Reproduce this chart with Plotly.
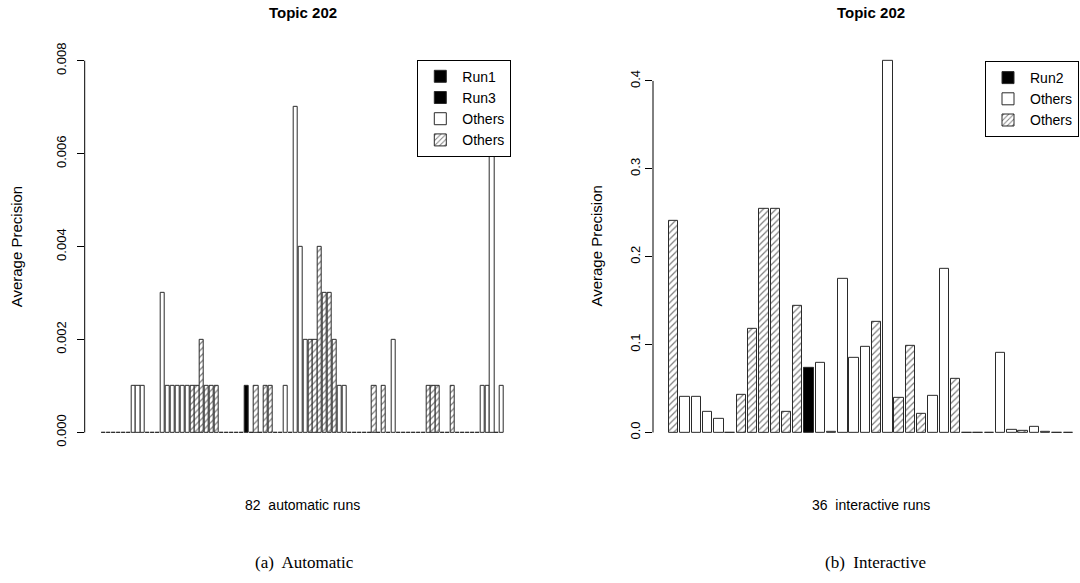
import plotly.graph_objects as go

W, H = 1080, 583

# ---- data -----------------------------------------------------------------
# Topic 202, automatic runs: average precision per run and the kind of run
auto_ap = [
    0, 0, 0, 0, 0, 0, 0.001, 0.001, 0.001, 0,
    0, 0, 0.003, 0.001, 0.001, 0.001, 0.001, 0.001, 0.001, 0.001,
    0.002, 0.001, 0.001, 0.001, 0, 0, 0, 0, 0, 0.001,
    0, 0.001, 0, 0.001, 0.001, 0, 0, 0.001, 0, 0.007,
    0.004, 0.002, 0.002, 0.002, 0.004, 0.003, 0.003, 0.002, 0.001, 0.001,
    0, 0, 0, 0, 0, 0.001, 0, 0.001, 0, 0.002,
    0, 0, 0, 0, 0, 0, 0.001, 0.001, 0.001, 0,
    0, 0.001, 0, 0, 0, 0, 0, 0.001, 0.001, 0.006,
    0, 0.001,
]
# "o" = other run (plain), "h" = other run (hatched), otherwise the run name
auto_kind = [
    "o", "o", "o", "o", "o", "o", "o", "o", "o", "o",
    "o", "o", "o", "o", "o", "o", "o", "o", "h", "h",
    "h", "h", "h", "h", "o", "o", "o", "o", "o", "Run1",
    "o", "h", "o", "h", "h", "o", "o", "o", "o", "o",
    "o", "o", "h", "h", "h", "h", "h", "h", "o", "o",
    "o", "o", "o", "o", "o", "h", "o", "h", "o", "o",
    "o", "o", "o", "o", "o", "o", "h", "h", "h", "o",
    "o", "h", "o", "o", "o", "o", "o", "o", "o", "o",
    "o", "o",
]
auto_runs = ["Run1", "Run3"]
auto_ticks = [0.000, 0.002, 0.004, 0.006, 0.008]

# Topic 202, interactive runs
inter_ap = [
    0.241, 0.041, 0.041, 0.023, 0.015, 0, 0.043, 0.118, 0.255, 0.255,
    0.024, 0.144, 0.073, 0.079, 0.001, 0.175, 0.085, 0.097, 0.126, 0.423,
    0.040, 0.099, 0.021, 0.042, 0.186, 0.061, 0, 0, 0, 0.091,
    0.003, 0.002, 0.007, 0.001, 0, 0,
]
inter_kind = [
    "h", "o", "o", "o", "o", "o", "h", "h", "h", "h",
    "h", "h", "Run2", "o", "o", "o", "o", "o", "h", "o",
    "h", "h", "h", "o", "o", "h", "o", "o", "o", "o",
    "o", "h", "o", "o", "o", "o",
]
inter_runs = ["Run2"]
inter_ticks = [0.0, 0.1, 0.2, 0.3, 0.4]

# ---- styling --------------------------------------------------------------
SANS = "Liberation Sans, Arial, sans-serif"
SERIF = "Liberation Serif, Times New Roman, serif"
EDGE = dict(color="#2a2a2a", width=1)
SPACE = 0.2          # gap between bars, as a fraction of bar width
SLOT = 1 + SPACE

# panel geometry in pixels: y-axis position, where bar-unit 0 sits,
# pixels per bar unit; ylab_dx / tick_pad place the axis texts
PANELS = [
    dict(axis=84.7, origin=100.9, scale=4.097, ylab_dx=68, tick_pad=6),
    dict(axis=653.0, origin=667.2, scale=9.392, ylab_dx=56, tick_pad=0),
]
Y_TOP, Y_BOT = 43.05, 446.65


def style(kind):
    if kind == "o":
        return dict(color="white", line=EDGE)
    if kind == "h":
        return dict(color="white", line=EDGE,
                    pattern=dict(shape="/", fgcolor="black", bgcolor="white",
                                 size=4.5, solidity=0.28))
    return dict(color="black", line=EDGE)


fig = go.Figure()


def add_panel(ap, kinds, runs, idx, legend):
    xa = "x" if idx == 0 else "x2"
    ya = "y" if idx == 0 else "y2"
    groups = [(r, r) for r in runs] + [("o", "Others"), ("h", "Others")]
    for kind, label in groups:
        xs = [i for i, k in enumerate(kinds) if k == kind]
        ys = [ap[i] for i in xs]
        fig.add_trace(go.Bar(
            x=xs if xs else [None], y=ys if ys else [None],
            width=1 / SLOT, name=label, marker=style(kind),
            xaxis=xa, yaxis=ya, legend=legend,
            legendgroup=f"{legend}-{kind}", showlegend=True,
            hoverinfo="skip",
        ))


add_panel(auto_ap, auto_kind, auto_runs, 0, "legend")
add_panel(inter_ap, inter_kind, inter_runs, 1, "legend2")


def x_layout(n, panel):
    """Bars sit in [0, n*SLOT + SPACE] bar units, with equal padding on
    both sides up to the y axis. Returns the axis dict and the pixel
    centre of the full plotting region."""
    span = n * SLOT + SPACE
    pad = panel["origin"] - panel["axis"]
    full_right = panel["origin"] + span * panel["scale"] + pad
    right_px = min(full_right, W)
    lo = -pad / panel["scale"]
    hi = (right_px - panel["origin"]) / panel["scale"]
    to_idx = lambda u: (u - SPACE - 0.5) / SLOT
    axis = dict(domain=[panel["axis"] / W, right_px / W],
                range=[to_idx(lo), to_idx(hi)],
                visible=False, fixedrange=True)
    return axis, (panel["axis"] + full_right) / 2


def y_layout(top, ticks, fmt, pad):
    return dict(domain=[1 - Y_BOT / H, 1 - Y_TOP / H],
                range=[-0.04 * top, 1.04 * top],
                tickvals=ticks, tickformat=fmt, tickangle=-90,
                ticks="outside", ticklen=7, tickwidth=1, tickcolor="black",
                ticklabelstandoff=pad,
                showline=False, showgrid=False, zeroline=False,
                tickfont=dict(family=SANS, size=13, color="black"),
                fixedrange=True)


LEGEND_STYLE = dict(xanchor="left", yanchor="top",
                    bordercolor="black", borderwidth=1, bgcolor="white",
                    font=dict(family=SANS, size=14, color="black"),
                    traceorder="normal", tracegroupgap=0, itemwidth=34)

xl1, c1 = x_layout(len(auto_ap), PANELS[0])
xl2, c2 = x_layout(len(inter_ap), PANELS[1])

fig.update_layout(
    width=W, height=H,
    margin=dict(l=0, r=0, t=0, b=0),
    paper_bgcolor="white", plot_bgcolor="white",
    barmode="overlay", bargap=0,
    xaxis=xl1,
    xaxis2=xl2,
    yaxis=y_layout(max(auto_ticks[-1], max(auto_ap)), auto_ticks, ".3f",
                   PANELS[0]["tick_pad"]),
    yaxis2=dict(y_layout(max(inter_ap), inter_ticks, ".1f",
                         PANELS[1]["tick_pad"]), anchor="x2"),
    legend=dict(LEGEND_STYLE, x=417.3 / W, y=1 - 57 / H),
    legend2=dict(LEGEND_STYLE, x=985 / W, y=1 - 58.3 / H),
    showlegend=True,
)

# y axis lines run from 0 to the top tick only
for ya, xa, ticks in (("y", "x", auto_ticks), ("y2", "x2", inter_ticks)):
    fig.add_shape(type="line", xref=f"{xa} domain", yref=ya,
                  x0=0, x1=0, y0=ticks[0], y1=ticks[-1],
                  line=dict(color="black", width=1))


def label(text, px, py, size, family=SANS, bold=False, angle=0):
    if bold:
        text = f"<b>{text}</b>"
    fig.add_annotation(text=text, x=px / W, y=1 - py / H, xref="paper",
                       yref="paper", xanchor="center", yanchor="middle",
                       showarrow=False, textangle=angle,
                       font=dict(family=family, size=size, color="black"))


for i, (panel, cx) in enumerate(zip(PANELS, (c1, c2))):
    n = len(auto_ap) if i == 0 else len(inter_ap)
    kind = "automatic" if i == 0 else "interactive"
    label("Topic 202", cx, 10, 15, bold=True)
    label(f"{n}  {kind} runs", cx, 505, 14)
    label("Average Precision", panel["axis"] - panel["ylab_dx"],
          (Y_TOP + Y_BOT) / 2, 15, angle=-90)

label("(a)  Automatic", 304, 562, 17, family=SERIF)
label("(b)  Interactive", 875, 562, 17, family=SERIF)

fig.write_html("out.html")
